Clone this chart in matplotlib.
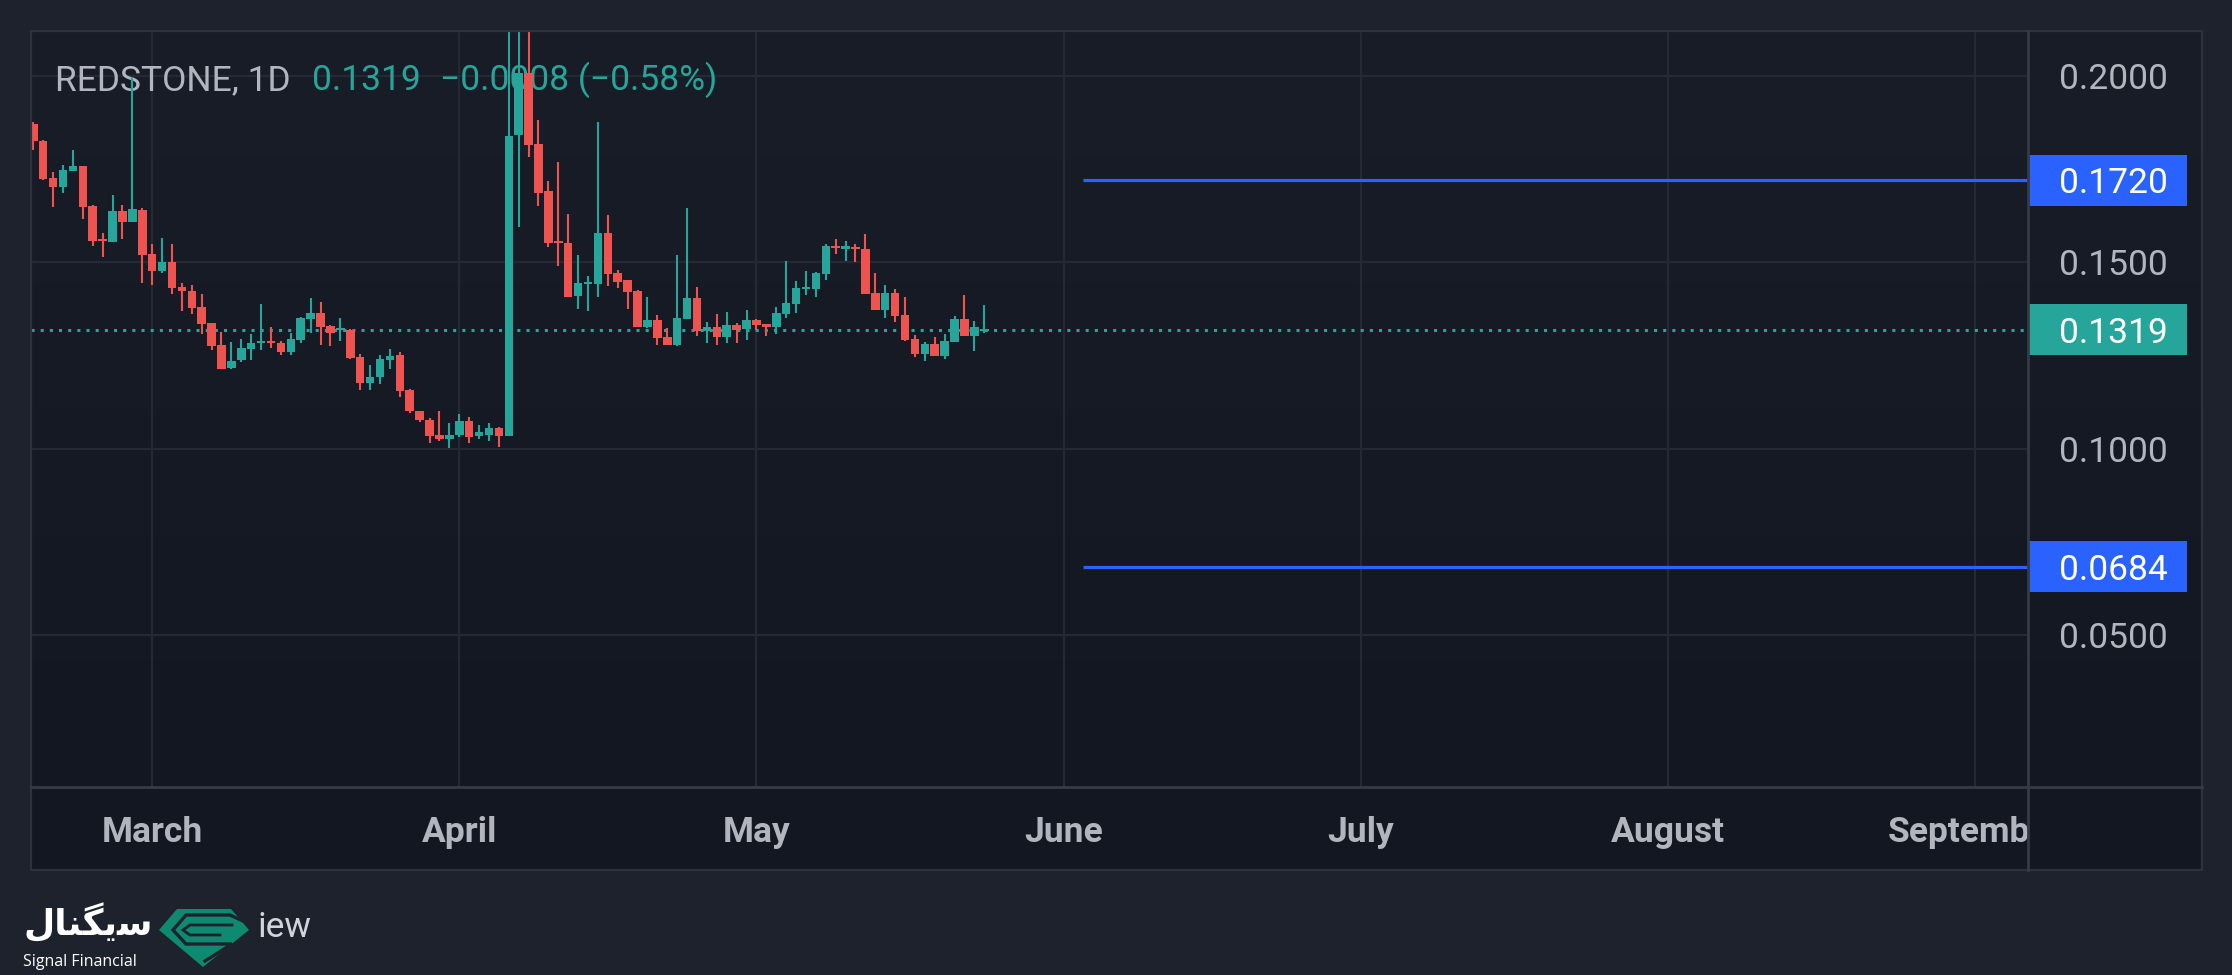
import matplotlib
matplotlib.use("Agg")
import matplotlib.pyplot as plt
import matplotlib.dates as mdates
import matplotlib.transforms as mtransforms
from matplotlib.patches import Rectangle, Polygon
from matplotlib.lines import Line2D
import numpy as np
import pandas as pd

plt.rcParams['font.family'] = ['Roboto', 'DejaVu Sans']

# ---- data ----
start_day = "2025-02-17"
opens = [.1872, .1827, .1726, .1703, .1746, .1759, .1652, .1560, .1556, .1638,
         .1609, .1641, .1522, .1478, .1501, .1434, .1424, .1380, .1337, .1278,
         .1216, .1238, .1267, .1284, .1290, .1285, .1260, .1291, .1348, .1365,
         .1330, .1318, .1318, .1246, .1177, .1193, .1238, .1251, .1157, .1103,
         .1077, .1038, .1026, .1037, .1076, .1034, .1038, .1055, .1034, .1841,
         .2009, .1818, .1692, .1554, .1553, .1411, .1443, .1443, .1579, .1472,
         .1452, .1423, .1326, .1345, .1300, .1279, .1348, .1404, .1316, .1326,
         .1300, .1332, .1321, .1345, .1335, .1326, .1361, .1388, .1429, .1428,
         .1469, .1544, .1537, .1541, .1536, .1418, .1372, .1418, .1359, .1294,
         .1254, .1281, .1248, .1287, .1348, .1302, .1316]
highs = [.1876, .1829, .1742, .1761, .1802, .1759, .1654, .1579, .1681, .1654,
         .1996, .1646, .1549, .1565, .1549, .1444, .1439, .1415, .1337, .1313,
         .1286, .1294, .1307, .1388, .1327, .1290, .1310, .1353, .1405, .1393,
         .1333, .1351, .1321, .1254, .1225, .1252, .1267, .1259, .1161, .1103,
         .1084, .1101, .1069, .1095, .1086, .1063, .1069, .1058, .2250, .2300,
         .2200, .1883, .1719, .1770, .1630, .1520, .1463, .1877, .1627, .1479,
         .1452, .1426, .1407, .1359, .1324, .1520, .1646, .1434, .1340, .1361,
         .1367, .1337, .1372, .1348, .1335, .1380, .1504, .1450, .1477, .1474,
         .1549, .1563, .1558, .1549, .1576, .1471, .1439, .1428, .1407, .1305,
         .1286, .1299, .1307, .1356, .1412, .1342, .1386]
lows = [.1802, .1721, .1650, .1687, .1746, .1617, .1545, .1515, .1556, .1563,
        .1609, .1445, .1440, .1472, .1416, .1370, .1362, .1308, .1265, .1214,
        .1214, .1232, .1238, .1265, .1271, .1252, .1252, .1284, .1311, .1279,
        .1276, .1290, .1241, .1158, .1158, .1174, .1214, .1139, .1096, .1072,
        .1015, .1021, .1003, .1031, .1015, .1026, .1021, .1005, .1034, .1594,
        .1784, .1652, .1542, .1491, .1408, .1375, .1370, .1408, .1437, .1432,
        .1375, .1326, .1324, .1279, .1279, .1276, .1348, .1303, .1284, .1279,
        .1284, .1284, .1292, .1319, .1302, .1308, .1351, .1364, .1412, .1407,
        .1453, .1522, .1504, .1501, .1415, .1372, .1351, .1340, .1289, .1246,
        .1235, .1248, .1241, .1287, .1302, .1262, .1310]
closes = [.1825, .1724, .1703, .1748, .1759, .1650, .1558, .1557, .1638, .1609,
          .1643, .1521, .1478, .1501, .1432, .1424, .1378, .1335, .1276, .1214,
          .1237, .1271, .1283, .1290, .1284, .1260, .1294, .1351, .1365, .1326,
          .1311, .1323, .1243, .1177, .1193, .1241, .1249, .1155, .1101, .1077,
          .1034, .1026, .1038, .1076, .1031, .1045, .1055, .1034, .1839, .2009,
          .1816, .1687, .1553, .1551, .1408, .1445, .1445, .1579, .1470, .1448,
          .1421, .1326, .1345, .1298, .1279, .1351, .1404, .1316, .1326, .1300,
          .1332, .1318, .1345, .1332, .1326, .1364, .1391, .1431, .1431, .1471,
          .1544, .1539, .1540, .1535, .1415, .1372, .1418, .1356, .1291, .1254,
          .1281, .1248, .1289, .1348, .1302, .1327, .1319]

price_ticks = [0.05, 0.10, 0.15, 0.20]
month_starts = ["2025-03-01", "2025-04-01", "2025-05-01", "2025-06-01",
                "2025-07-01", "2025-08-01", "2025-09-01"]
month_names = ["March", "April", "May", "June", "July", "August", "September"]
level_prices = [0.1720, 0.0684]
level_start = "2025-06-03"
last_price = 0.1319
header_name = "REDSTONE, 1D"
header_price = "0.1319"
header_change = "\u22120.0008 (\u22120.58%)"

# ---- layout (pixels) ----
W, H = 2232, 975
BG = '#1e222d'
UP, DOWN = '#26a69a', '#ef5350'
TXT = '#b2b5be'
GRID = '#252934'
BORDER = '#2e323d'
FS = 25.5


def fbox(x0, y0, x1, y1):
    return [x0 / W, 1 - y1 / H, (x1 - x0) / W, (y1 - y0) / H]


fig = plt.figure(figsize=(W / 100, H / 100), dpi=100, facecolor=BG)

# gradient background for pane + price scale
bg = fig.add_axes(fbox(31, 31, 2202, 787))
top = np.array(matplotlib.colors.to_rgb('#191d28'))
bot = np.array(matplotlib.colors.to_rgb('#131722'))
t = np.linspace(0, 1, 256)[:, None, None]
grad = top * (1 - t) + bot * t
bg.imshow(grad, aspect='auto', extent=[0, 1, 0, 1])
bg.set_axis_off()

tb = fig.add_axes(fbox(31, 787, 2202, 870))
tb.set_facecolor('#131722')
tb.set_xticks([])
tb.set_yticks([])
for s in tb.spines.values():
    s.set_visible(False)

# main pane
ax = fig.add_axes(fbox(31, 31, 2028, 787))
ax.set_facecolor('none')
for s in ax.spines.values():
    s.set_visible(False)

x = mdates.date2num(pd.date_range(start_day, periods=len(closes), freq='D'))
x0 = x[0]
ax.set_xlim(x0 - 0.23, x0 + 201.36)
ax.set_ylim(0.00938, 0.21206)

months = mdates.date2num(pd.to_datetime(month_starts))
ax.set_xticks(months)
ax.set_yticks(price_ticks)
ax.set_axisbelow(True)
ax.grid(True, color=GRID, lw=1.6, zorder=0)
ax.yaxis.tick_right()
ax.set_yticklabels(["%.4f" % p for p in price_ticks])
ax.tick_params(axis='y', length=0, pad=22, labelsize=FS, labelcolor=TXT)
ax.tick_params(axis='x', length=0, labelbottom=False)

# header (under the candles)
ax.text((55 - 31) / 1997, (787 - 90) / 756, header_name, transform=ax.transAxes,
        fontsize=FS, color=TXT, va='baseline', ha='left', zorder=1)
ax.text((312 - 31) / 1997, (787 - 90) / 756, header_price, transform=ax.transAxes,
        fontsize=FS, color=UP, va='baseline', ha='left', zorder=1)
ax.text((440 - 31) / 1997, (787 - 90) / 756, header_change, transform=ax.transAxes,
        fontsize=FS, color=UP, va='baseline', ha='left', zorder=1)

# candles
o = np.array(opens)
c = np.array(closes)
hi = np.array(highs)
lo = np.array(lows)
cols = [UP if cc >= oo else DOWN for oo, cc in zip(o, c)]
ax.vlines(x, lo, hi, colors=cols, lw=1.5, zorder=3)
body_h = np.maximum(np.abs(c - o), 0.0006)
ax.bar(x, body_h, bottom=np.minimum(o, c), width=0.86, color=cols,
       linewidth=0, zorder=4)

# price levels
ax.hlines(level_prices, mdates.date2num(pd.Timestamp(level_start)),
          x0 + 201.36, colors='#2962ff', lw=2.3, zorder=5)
ax.axhline(last_price, color=UP, lw=2.2, ls=(0, (1, 2)), zorder=2)

trans = mtransforms.blended_transform_factory(ax.transAxes, ax.transData)
hh = 25.5 / 3730
box_w = (2187 - 31) / 1997 - 1.0
for p, colr in [(level_prices[0], '#2962ff'), (level_prices[1], '#2962ff'),
                (last_price, UP)]:
    ax.add_patch(Rectangle((1.0, p - hh), box_w, 2 * hh, transform=trans,
                           facecolor=colr, edgecolor='none', clip_on=False,
                           zorder=6))
    ax.text((2059 - 31) / 1997, p, "%.4f" % p, transform=trans, fontsize=FS,
            color='white', va='center_baseline', ha='left', clip_on=False,
            zorder=7)

# time scale
ta = fig.add_axes(fbox(31, 787, 2028, 870))
ta.set_facecolor('none')
ta.set_axis_off()
ta.set_xlim(ax.get_xlim())
ta.set_ylim(0, 1)
for m, name in zip(months, month_names):
    ta.text(m, (870 - 842) / 83, name, fontsize=FS, fontweight='bold',
            color=TXT, ha='center', va='baseline', clip_on=True)

# borders
def fline(xs, ys, color=BORDER, lw=1.6):
    fig.add_artist(Line2D([v / W for v in xs], [1 - v / H for v in ys],
                          color=color, lw=lw))

fline([31, 2202, 2202, 31, 31], [31, 31, 870, 870, 31])
fline([2028, 2028], [31, 870], color='#363a45', lw=2)
fline([31, 2202], [787, 787], color='#363a45', lw=2)

# watermark / logo
fig.text(23 / W, 1 - 935 / H, "\uFEDD\uFE8E\uFEE8\uFB95\uFBFE\uFEB3",
         fontsize=26, fontweight='bold', color='white', family='DejaVu Sans',
         va='baseline', ha='left')
fig.text(23 / W, 1 - 966 / H, "Signal Financial", fontsize=11.5, color='white',
         family='Open Sans', va='baseline', ha='left')
fig.text(257 / W, 1 - 937 / H, "iew", fontsize=FS, color='#d1d4dc',
         va='baseline', ha='left')

lg = fig.add_axes(fbox(155, 903, 255, 970))
lg.set_axis_off()
lg.set_xlim(155, 255)
lg.set_ylim(970, 903)
lg.add_patch(Polygon([(177, 909), (231, 909), (249, 930), (203, 967), (159, 930)],
                     closed=True, facecolor='#0e8a70', edgecolor='none'))
lg.plot([243, 230, 186, 173, 186, 232, 205], [921, 915, 915, 930, 944, 944, 961],
        color=BG, lw=2.4, solid_joinstyle='miter')
lg.plot([232, 190, 183, 190, 220], [925, 925, 930, 935, 935],
        color=BG, lw=2.0, solid_joinstyle='miter')

fig.savefig("out.png", dpi=100, facecolor=BG)
